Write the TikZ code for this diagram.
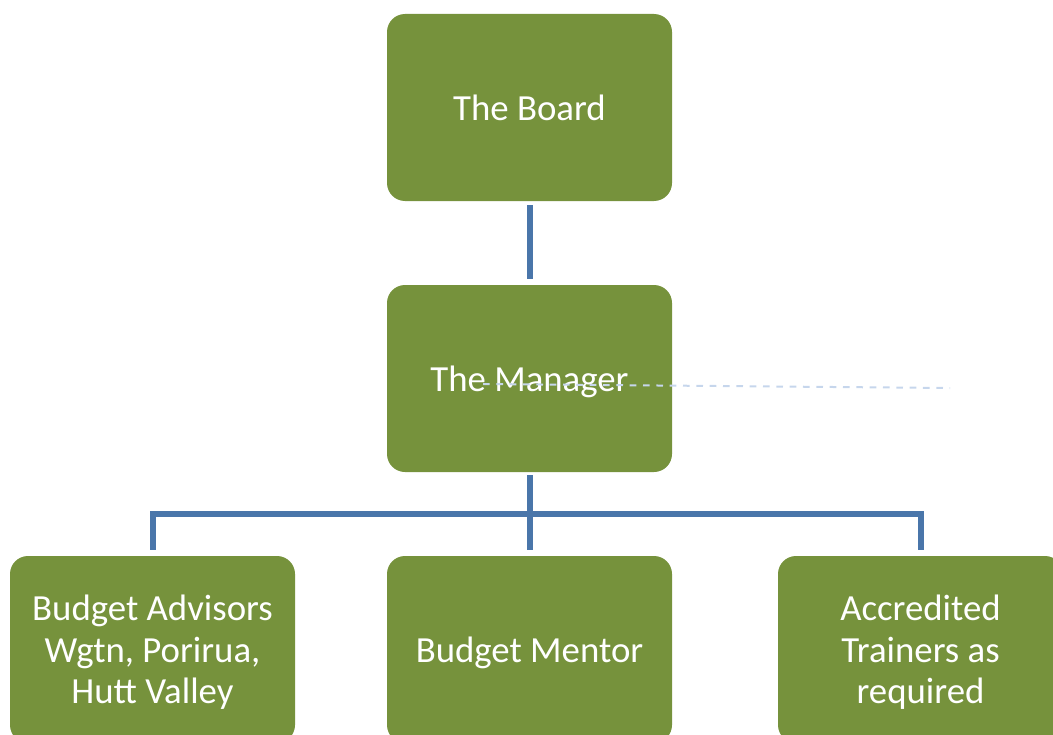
\documentclass[tikz,border=0pt]{standalone}
\usepackage{fontspec}
\setmainfont{Carlito}
\definecolor{boxgreen}{RGB}{118,146,60}
\definecolor{linkblue}{RGB}{74,118,170}
\definecolor{dashblue}{RGB}{198,214,236}
\begin{document}
\begin{tikzpicture}[x=0.75pt,y=-0.75pt,
	unit/.style={fill=boxgreen, rounded corners=13.5pt, minimum width=213.75pt, minimum height=140.25pt,
		text=white, align=center, font=\fontsize{27.6}{31}\selectfont, inner sep=0pt, text depth=0pt},
	link/.style={draw=linkblue, line width=4.5pt}]
		\useasboundingbox (0,0) rectangle (1053,735);
		\clip (0,0) rectangle (1053,735);
		%boxes
		\node[unit] (board) at (529.5,107.5) {The Board};
		\node[unit] (manager) at (529.5,378.5) {The Manager};
		\node[unit] (advisors) at (152.5,649.5) {Budget Advisors\\Wgtn, Porirua,\\Hutt Valley};
		\node[unit] (mentor) at (529.5,649.5) {Budget Mentor};
		\node[unit] (trainers) at (920.5,649.5) {Accredited\\Trainers as\\required};
		%links
		\draw[link, shorten <=3pt, shorten >=4.5pt] (board.south) -- (manager.north);
		\draw[link, shorten <=2.25pt, shorten >=4.5pt] (manager.south) -- (mentor.north);
		\draw[link, shorten <=4.5pt, shorten >=4.5pt] (advisors.north) -- ++(0,-42) -| (trainers.north);
		%dashed
		\coordinate (dashend) at (950,388);
		\draw[dashblue, line width=1.5pt, dash pattern=on 5pt off 5pt] (483,384) -- (dashend);
	\end{tikzpicture}
\end{document}
